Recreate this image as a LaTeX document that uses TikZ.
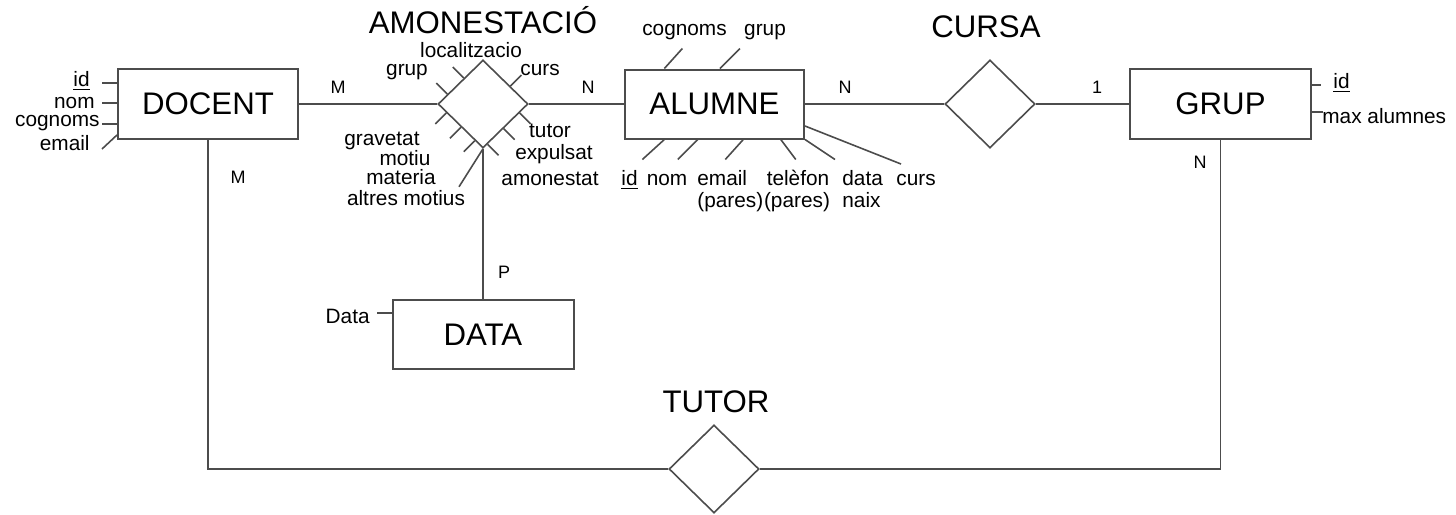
\documentclass[tikz,border=0pt]{standalone}
\usepackage{fontspec}
\setmainfont{Liberation Sans}
\usetikzlibrary{shapes.geometric,calc}

\definecolor{linia}{gray}{0.3}

\tikzset{
  entitat/.style={draw=linia, line width=1pt, minimum width=90pt, minimum height=35pt, inner sep=0pt, font=\fontsize{15.6}{18}\selectfont},
  relacio/.style={diamond, draw=linia, line width=0.8pt, minimum width=45pt, minimum height=44pt, inner sep=0pt},
  titol/.style={font=\fontsize{15.6}{18}\selectfont, inner sep=0pt},
  atribut/.style={font=\fontsize{10.4}{12}\selectfont, inner sep=0pt},
  card/.style={font=\fontsize{9}{11}\selectfont, inner sep=0pt},
  enllac/.style={draw=linia, line width=0.8pt},
}

\begin{document}
\begin{tikzpicture}[x=0.5pt, y=-0.5pt]
\useasboundingbox (0,0) rectangle (1456,514);

% entitats
\node[entitat] (docent) at (208,104) {DOCENT};
\node[entitat, minimum width=89.5pt, minimum height=34.5pt] (alumne) at (714.5,104) {ALUMNE};
\node[entitat, minimum width=90.5pt] (grup) at (1220.5,104) {GRUP};
\node[entitat, minimum width=90.5pt, minimum height=34.5pt] (data) at (483,334.5) {DATA};

% relacions
\node[relacio] (amon) at (483,104) {};
\node[relacio] (cursa) at (990,104) {};
\node[relacio] (tutor) at (714,469) {};
\node[titol, anchor=base] (t-amon) at (483,33) {AMONESTACIÓ};
\node[titol, anchor=base] (t-cursa) at (986,38) {CURSA};
\node[titol, anchor=base] (t-tutor) at (716,412) {TUTOR};

% connexions
\draw[enllac] (docent) -- (amon);
\draw[enllac] (amon) -- (alumne);
\draw[enllac] (alumne) -- (cursa);
\draw[enllac] (cursa) -- (grup);
\draw[enllac] (amon) -- (data);
\draw[enllac] (docent.south) |- (tutor.west);
\draw[enllac] (grup.south) |- (tutor.east);

% cardinalitats
\node[card, anchor=base] (c-m1) at (338,93) {M};
\node[card, anchor=base] (c-n1) at (588,93) {N};
\node[card, anchor=base] (c-n2) at (845,93) {N};
\node[card, anchor=base] (c-1) at (1097,93) {1};
\node[card, anchor=base] (c-n3) at (1200,168) {N};
\node[card, anchor=base] (c-m2) at (238,183) {M};
\node[card, anchor=base] (c-p) at (504,278) {P};

% atributs docent
\node[atribut, anchor=base east] (d-id) at (90,86) {\underline{id}};
\node[atribut, anchor=base east] (d-nom) at (95,108) {nom};
\node[atribut, anchor=base east] (d-cognoms) at (100,126) {cognoms};
\node[atribut, anchor=base east] (d-email) at (90,150) {email};
\foreach \y in {83,103,124}
  \draw[enllac] (docent.west |- 0,\y) -- ++(-15,0);
\draw[enllac] (docent.west |- 0,135) -- ++(-15,14);

% atributs amonestacio
\node[atribut, anchor=base] (a-loc) at (471,57) {localitzacio};
\node[atribut, anchor=base] (a-grup) at (407,75) {grup};
\node[atribut, anchor=base] (a-curs) at (540,75) {curs};
\node[atribut, anchor=base] (a-grav) at (382,145) {gravetat};
\node[atribut, anchor=base] (a-motiu) at (405,165) {motiu};
\node[atribut, anchor=base] (a-mat) at (401,184) {materia};
\node[atribut, anchor=base] (a-altres) at (406,205) {altres motius};
\node[atribut, anchor=base] (a-tutor) at (550,137) {tutor};
\node[atribut, anchor=base] (a-exp) at (554,159) {expulsat};
\node[atribut, anchor=base] (a-amon) at (550,185) {amonestat};
\foreach \t in {0.22,0.58}
  \draw[enllac] ($(amon.west)!\t!(amon.north)$) -- ++(-11,-11);
\draw[enllac] ($(amon.north)!0.6!(amon.east)$) -- ++(11,-11);
\foreach \t in {0.2,0.55,0.9}
  \draw[enllac] ($(amon.east)!\t!(amon.south)$) -- ++(11,11);
\foreach \t in {0.2,0.52,0.82}
  \draw[enllac] ($(amon.west)!\t!(amon.south)$) -- ++(-11,11);
\draw[enllac] (amon.south) -- ++(-24,38);

% atributs alumne
\node[atribut, anchor=base] (al-cognoms) at (684.5,35) {cognoms};
\node[atribut, anchor=base] (al-grup) at (765,35) {grup};
\node[atribut, anchor=base] (al-id) at (629.5,185) {\underline{id}};
\node[atribut, anchor=base] (al-nom) at (667,185) {nom};
\node[atribut, anchor=base west] (al-email) at (697,185) {email};
\node[atribut, anchor=base west] (al-email2) at (697,207) {(pares)};
\node[atribut, anchor=base] (al-tel) at (798,185) {telèfon};
\node[atribut, anchor=base] (al-tel2) at (797,207) {(pares)};
\node[atribut, anchor=base west] (al-data) at (842,185) {data};
\node[atribut, anchor=base west] (al-data2) at (842,207) {naix};
\node[atribut, anchor=base] (al-curs) at (916,185) {curs};
\draw[enllac] ($(alumne.north west)!0.223!(alumne.north east)$) -- ++(18,-20);
\draw[enllac] ($(alumne.north west)!0.53!(alumne.north east)$) -- ++(20,-20);
\draw[enllac] ($(alumne.south west)!0.223!(alumne.south east)$) -- ++(-22,20);
\draw[enllac] ($(alumne.south west)!0.408!(alumne.south east)$) -- ++(-20,20);
\draw[enllac] ($(alumne.south west)!0.659!(alumne.south east)$) -- ++(-18,20);
\draw[enllac] ($(alumne.south west)!0.866!(alumne.south east)$) -- ++(15,20);
\draw[enllac] (alumne.south east) -- ++(30,20);
\draw[enllac] ($(alumne.north east)!0.81!(alumne.south east)$) -- ++(96,38);

% atributs grup
\node[atribut, anchor=base west] (g-id) at (1333,88) {\underline{id}};
\node[atribut, anchor=base west] (g-max) at (1322,123) {max alumnes};
\draw[enllac] (grup.east |- 0,85) -- ++(9,0);
\draw[enllac] (grup.east |- 0,112) -- ++(11,0);

% atribut data
\node[atribut, anchor=base east] (dt-data) at (370,323) {Data};
\draw[enllac] (data.west |- 0,313) -- ++(-15,0);

\end{tikzpicture}
\end{document}
